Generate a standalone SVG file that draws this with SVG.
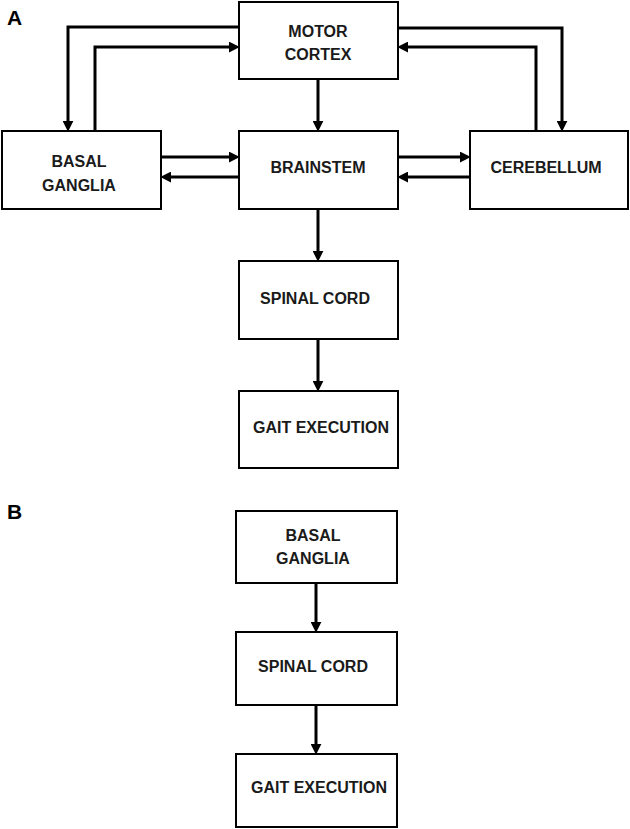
<svg xmlns="http://www.w3.org/2000/svg" width="630" height="829" viewBox="0 0 630 829">
<style>
.box{fill:#fff;stroke:#000;stroke-width:2}
.lbl{font-family:"Liberation Sans",Arial,sans-serif;font-weight:bold;font-size:16px;fill:#1a1a1a;text-anchor:middle}
.pan{font-family:"Liberation Sans",Arial,sans-serif;font-weight:bold;font-size:21px;fill:#000}
.c{fill:none;stroke:#000;stroke-width:3;stroke-linejoin:miter}
</style>
<defs>
<marker id="ah" markerUnits="userSpaceOnUse" markerWidth="11" markerHeight="11" refX="2" refY="5" orient="auto" viewBox="0 0 10 10">
<path d="M0,0 L10,5 L0,10 z" fill="#000"/>
</marker>
</defs>
<rect width="630" height="829" fill="#fff"/>
<text class="pan" x="7" y="25">A</text>
<text class="pan" x="7" y="519">B</text>
<g id="connectors">
<path class="c" d="M239,27 H68 V123" marker-end="url(#ah)"/>
<path class="c" d="M95,131 V47 H231" marker-end="url(#ah)"/>
<path class="c" d="M398,28 H562 V123" marker-end="url(#ah)"/>
<path class="c" d="M536,131 V47 H406" marker-end="url(#ah)"/>
<path class="c" d="M318,79 V123" marker-end="url(#ah)"/>
<path class="c" d="M161,157 H231" marker-end="url(#ah)"/>
<path class="c" d="M239,177 H169" marker-end="url(#ah)"/>
<path class="c" d="M398,157 H462" marker-end="url(#ah)"/>
<path class="c" d="M470,177 H406" marker-end="url(#ah)"/>
<path class="c" d="M318,209 V253" marker-end="url(#ah)"/>
<path class="c" d="M318,339 V383" marker-end="url(#ah)"/>
<path class="c" d="M316,583 V624" marker-end="url(#ah)"/>
<path class="c" d="M316,705 V746" marker-end="url(#ah)"/>
</g>
<g id="motor-cortex"><rect class="box" x="239" y="2" width="159" height="77"/><text class="lbl" x="318" y="37">MOTOR</text><text class="lbl" x="318" y="60">CORTEX</text></g>
<g id="basal-ganglia-a"><rect class="box" x="2" y="131" width="159" height="78"/><text class="lbl" x="79" y="167">BASAL</text><text class="lbl" x="79" y="191">GANGLIA</text></g>
<g id="brainstem"><rect class="box" x="239" y="131" width="159" height="78"/><text class="lbl" x="318" y="173">BRAINSTEM</text></g>
<g id="cerebellum"><rect class="box" x="470" y="131" width="158" height="78"/><text class="lbl" x="546" y="173">CEREBELLUM</text></g>
<g id="spinal-cord-a"><rect class="box" x="239" y="261" width="159" height="78"/><text class="lbl" x="315" y="304">SPINAL CORD</text></g>
<g id="gait-a"><rect class="box" x="239" y="391" width="159" height="77"/><text class="lbl" x="321" y="433">GAIT EXECUTION</text></g>
<g id="basal-ganglia-b"><rect class="box" x="236" y="511" width="161" height="72"/><text class="lbl" x="313" y="541">BASAL</text><text class="lbl" x="313" y="564">GANGLIA</text></g>
<g id="spinal-cord-b"><rect class="box" x="236" y="632" width="161" height="73"/><text class="lbl" x="313" y="672">SPINAL CORD</text></g>
<g id="gait-b"><rect class="box" x="236" y="754" width="161" height="73"/><text class="lbl" x="319" y="793">GAIT EXECUTION</text></g>
</svg>
